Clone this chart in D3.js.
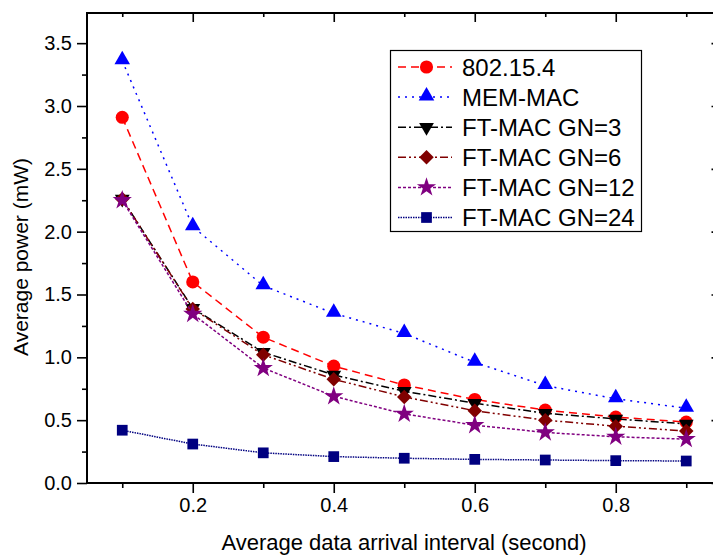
<!DOCTYPE html>
<html>
<head>
<meta charset="utf-8">
<script src="https://cdn.jsdelivr.net/npm/d3@7/dist/d3.min.js"></script>
<style>
  body { margin: 0; background: #fff; }
  svg { display: block; font-family: "Liberation Sans", Arial, sans-serif; }
</style>
</head>
<body>
<svg id="chart" width="713" height="557"></svg>
<script>
// ---- data ----
const xValues = [0.1, 0.2, 0.3, 0.4, 0.5, 0.6, 0.7, 0.8, 0.9];
const seriesNames = ["802.15.4", "MEM-MAC", "FT-MAC GN=3", "FT-MAC GN=6", "FT-MAC GN=12", "FT-MAC GN=24"];
const ieee802 = [2.91, 1.60, 1.16, 0.93, 0.78, 0.665, 0.58, 0.525, 0.485];
const memMac  = [3.36, 2.04, 1.57, 1.35, 1.19, 0.96, 0.775, 0.67, 0.595];
const ftGn3   = [2.26, 1.39, 1.04, 0.86, 0.73, 0.635, 0.555, 0.51, 0.47];
const ftGn6   = [2.26, 1.385, 1.02, 0.825, 0.685, 0.575, 0.50, 0.452, 0.413];
const ftGn12  = [2.25, 1.345, 0.915, 0.69, 0.55, 0.46, 0.402, 0.368, 0.349];
const ftGn24  = [0.42, 0.31, 0.24, 0.21, 0.197, 0.188, 0.183, 0.178, 0.175];
const xMajorTicks = [0.2, 0.4, 0.6, 0.8];
const xMinorTicks = [0.1, 0.3, 0.5, 0.7, 0.9];
const yMajorTicks = [0, 0.5, 1.0, 1.5, 2.0, 2.5, 3.0, 3.5];
const yMinorTicks = [0.25, 0.75, 1.25, 1.75, 2.25, 2.75, 3.25];
const xTitle = "Average data arrival interval (second)";
const yTitle = "Average power (mW)";

// ---- styles ----
const styles = [
  { color: "#FF0000", dash: "8,5",        symbol: "circle" },
  { color: "#0000FF", dash: "2,5",        symbol: "triangle" },
  { color: "#000000", dash: "8,3,2,3",    symbol: "triangleDown" },
  { color: "#800000", dash: "8,3,2,3,2,3",symbol: "diamond" },
  { color: "#800080", dash: "3,2",        symbol: "star" },
  { color: "#000080", dash: "1.5,1",      symbol: "square" }
];
const allSeries = [ieee802, memMac, ftGn3, ftGn6, ftGn12, ftGn24];

(function () {
const svg = d3.select("#chart");
const pLeft = 87, pRight = 721.5, pTop = 13, pBottom = 483;
const x = d3.scaleLinear().domain([0.05, 0.95]).range([pLeft, pRight]);
const y = d3.scaleLinear().domain([0, 3.74]).range([pBottom, pTop]);

function markerPath(type) {
  switch (type) {
    case "circle":   return d3.symbol(d3.symbolCircle, 135)();
    case "triangle": return d3.symbol(d3.symbolTriangle, 105)();
    case "triangleDown": return d3.symbol(d3.symbolTriangle, 95)();
    case "diamond":  return d3.symbol(d3.symbolSquare, 105)();
    case "star":     return d3.symbol(d3.symbolStar, 115)();
    case "square":   return d3.symbol(d3.symbolSquare, 115)();
  }
}
function markerTransform(type, px, py) {
  if (type === "triangleDown") return `translate(${px},${py}) rotate(180)`;
  if (type === "diamond") return `translate(${px},${py}) rotate(45)`;
  if (type === "triangle") return `translate(${px},${py - 1})`;
  return `translate(${px},${py})`;
}

// ---- data lines and markers ----
const line = d3.line().x(d => x(d[0])).y(d => y(d[1]));
allSeries.forEach((vals, i) => {
  const st = styles[i];
  const pts = xValues.map((xv, j) => [xv, vals[j]]);
  svg.append("path")
    .attr("d", line(pts))
    .attr("fill", "none")
    .attr("stroke", st.color)
    .attr("stroke-width", 1.5)
    .attr("stroke-dasharray", st.dash);
  svg.append("g").selectAll("path")
    .data(pts).join("path")
    .attr("d", markerPath(st.symbol))
    .attr("transform", d => markerTransform(st.symbol, x(d[0]), y(d[1])))
    .attr("fill", st.color);
});

// ---- axes ----
const axisStyle = g => {
  g.select(".domain").remove();
  g.selectAll("line").attr("stroke", "#000").attr("stroke-width", 1.6);
  g.selectAll("text").attr("font-size", 20).attr("fill", "#000")
    .attr("font-family", "'Liberation Sans', Arial, sans-serif");
};
svg.append("g").attr("transform", `translate(0,${pBottom})`)
  .call(d3.axisBottom(x).tickValues(xMajorTicks).tickSize(10).tickPadding(5).tickFormat(d3.format(".1f")))
  .call(axisStyle);
svg.append("g").attr("transform", `translate(0,${pBottom})`)
  .call(d3.axisBottom(x).tickValues(xMinorTicks).tickSize(5).tickFormat(""))
  .call(axisStyle);
svg.append("g").attr("transform", `translate(0,${pTop})`)
  .call(d3.axisTop(x).tickValues(xMajorTicks).tickSize(-9).tickFormat(""))
  .call(axisStyle);
svg.append("g").attr("transform", `translate(0,${pTop})`)
  .call(d3.axisTop(x).tickValues(xMinorTicks).tickSize(-4).tickFormat(""))
  .call(axisStyle);
svg.append("g").attr("transform", `translate(${pLeft},0)`)
  .call(d3.axisLeft(y).tickValues(yMajorTicks).tickSize(10).tickPadding(5).tickFormat(d3.format(".1f")))
  .call(axisStyle);
svg.append("g").attr("transform", `translate(${pLeft},0)`)
  .call(d3.axisLeft(y).tickValues(yMinorTicks).tickSize(5).tickFormat(""))
  .call(axisStyle);
svg.append("g").attr("transform", `translate(${pRight},0)`)
  .call(d3.axisRight(y).tickValues(yMajorTicks).tickSize(-10).tickFormat(""))
  .call(axisStyle);
svg.append("g").attr("transform", `translate(${pRight},0)`)
  .call(d3.axisRight(y).tickValues(yMinorTicks).tickSize(-5).tickFormat(""))
  .call(axisStyle);

// frame
svg.append("rect")
  .attr("x", pLeft).attr("y", pTop)
  .attr("width", pRight - pLeft).attr("height", pBottom - pTop)
  .attr("fill", "none").attr("stroke", "#000").attr("stroke-width", 2);

// titles
svg.append("text")
  .attr("x", 404).attr("y", 550)
  .attr("text-anchor", "middle").attr("font-size", 22)
  .text(xTitle);
svg.append("text")
  .attr("transform", "translate(28,257) rotate(-90)")
  .attr("text-anchor", "middle").attr("font-size", 21)
  .text(yTitle);

// ---- legend ----
const lg = svg.append("g");
lg.append("rect")
  .attr("x", 390.5).attr("y", 50.5).attr("width", 251).attr("height", 181)
  .attr("fill", "#fff").attr("stroke", "#000").attr("stroke-width", 1.2);
seriesNames.forEach((name, i) => {
  const st = styles[i];
  const ry = 67 + i * 30.1;
  lg.append("line")
    .attr("x1", 398).attr("x2", 452).attr("y1", ry).attr("y2", ry)
    .attr("stroke", st.color).attr("stroke-width", 1.5)
    .attr("stroke-dasharray", st.dash);
  lg.append("path")
    .attr("d", markerPath(st.symbol))
    .attr("transform", markerTransform(st.symbol, 426.5, ry))
    .attr("fill", st.color);
  lg.append("text")
    .attr("x", 462).attr("y", ry + 8.5)
    .attr("font-size", 24)
    .text(name);
});
})();
</script>
</body>
</html>
